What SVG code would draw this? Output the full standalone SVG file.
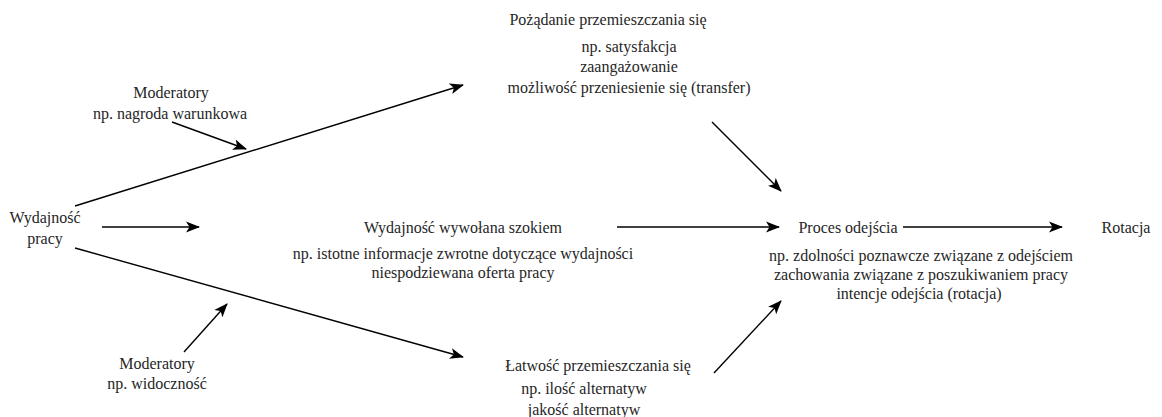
<svg xmlns="http://www.w3.org/2000/svg" width="1162" height="417" viewBox="0 0 1162 417">
  <style>
    text { font-family: 'Liberation Serif', 'Times New Roman', serif; font-size: 16px; fill: #262626; text-anchor: middle; dominant-baseline: central; }
    .edge { stroke: #000; stroke-width: 1.4; fill: none; marker-end: url(#arrow); }
  </style>
  <defs>
    <!-- filled notched arrowhead shared by every connector -->
    <marker id="arrow" markerUnits="userSpaceOnUse" markerWidth="14" markerHeight="12" viewBox="0 0 14 12" refX="13" refY="6" orient="auto">
      <path d="M0,0.5 L14,6 L0,11.5 L3.5,6 Z" fill="#000"/>
    </marker>
  </defs>
  <rect width="1162" height="417" fill="#fff"/>

  <g id="connectors">
    <line class="edge" x1="75" y1="206" x2="463" y2="85"/>
    <line class="edge" x1="172" y1="122" x2="246" y2="149"/>
    <line class="edge" x1="102" y1="227" x2="199" y2="227"/>
    <line class="edge" x1="75" y1="248" x2="463" y2="357"/>
    <line class="edge" x1="184" y1="352" x2="227" y2="304"/>
    <line class="edge" x1="617" y1="227" x2="779" y2="227"/>
    <line class="edge" x1="712" y1="122" x2="781" y2="191"/>
    <line class="edge" x1="714" y1="373" x2="781" y2="301"/>
    <line class="edge" x1="903" y1="227" x2="1062" y2="227"/>
  </g>

  <g id="job-performance">
    <text x="45" y="217">Wydajność</text>
    <text x="45" y="238">pracy</text>
  </g>

  <g id="moderators-top">
    <text x="171" y="92">Moderatory</text>
    <text x="170" y="113">np. nagroda warunkowa</text>
  </g>

  <g id="desire-to-move">
    <text x="608" y="19">Pożądanie przemieszczania się</text>
    <text x="629" y="46">np. satysfakcja</text>
    <text x="629" y="66">zaangażowanie</text>
    <text x="629" y="87">możliwość przeniesienie się (transfer)</text>
  </g>

  <g id="shock-performance">
    <text x="463" y="227">Wydajność wywołana szokiem</text>
    <text x="463" y="253">np. istotne informacje zwrotne dotyczące wydajności</text>
    <text x="463" y="272">niespodziewana oferta pracy</text>
  </g>

  <g id="moderators-bottom">
    <text x="157" y="363">Moderatory</text>
    <text x="157" y="383">np. widoczność</text>
  </g>

  <g id="ease-of-movement">
    <text x="598" y="365">Łatwość przemieszczania się</text>
    <text x="584" y="388">np. ilość alternatyw</text>
    <text x="584" y="409">jakość alternatyw</text>
  </g>

  <g id="withdrawal-process">
    <text x="848" y="227">Proces odejścia</text>
    <text x="921" y="255">np. zdolności poznawcze związane z odejściem</text>
    <text x="921" y="274">zachowania związane z poszukiwaniem pracy</text>
    <text x="919" y="293">intencje odejścia (rotacja)</text>
  </g>

  <g id="turnover">
    <text x="1126" y="227">Rotacja</text>
  </g>
</svg>
